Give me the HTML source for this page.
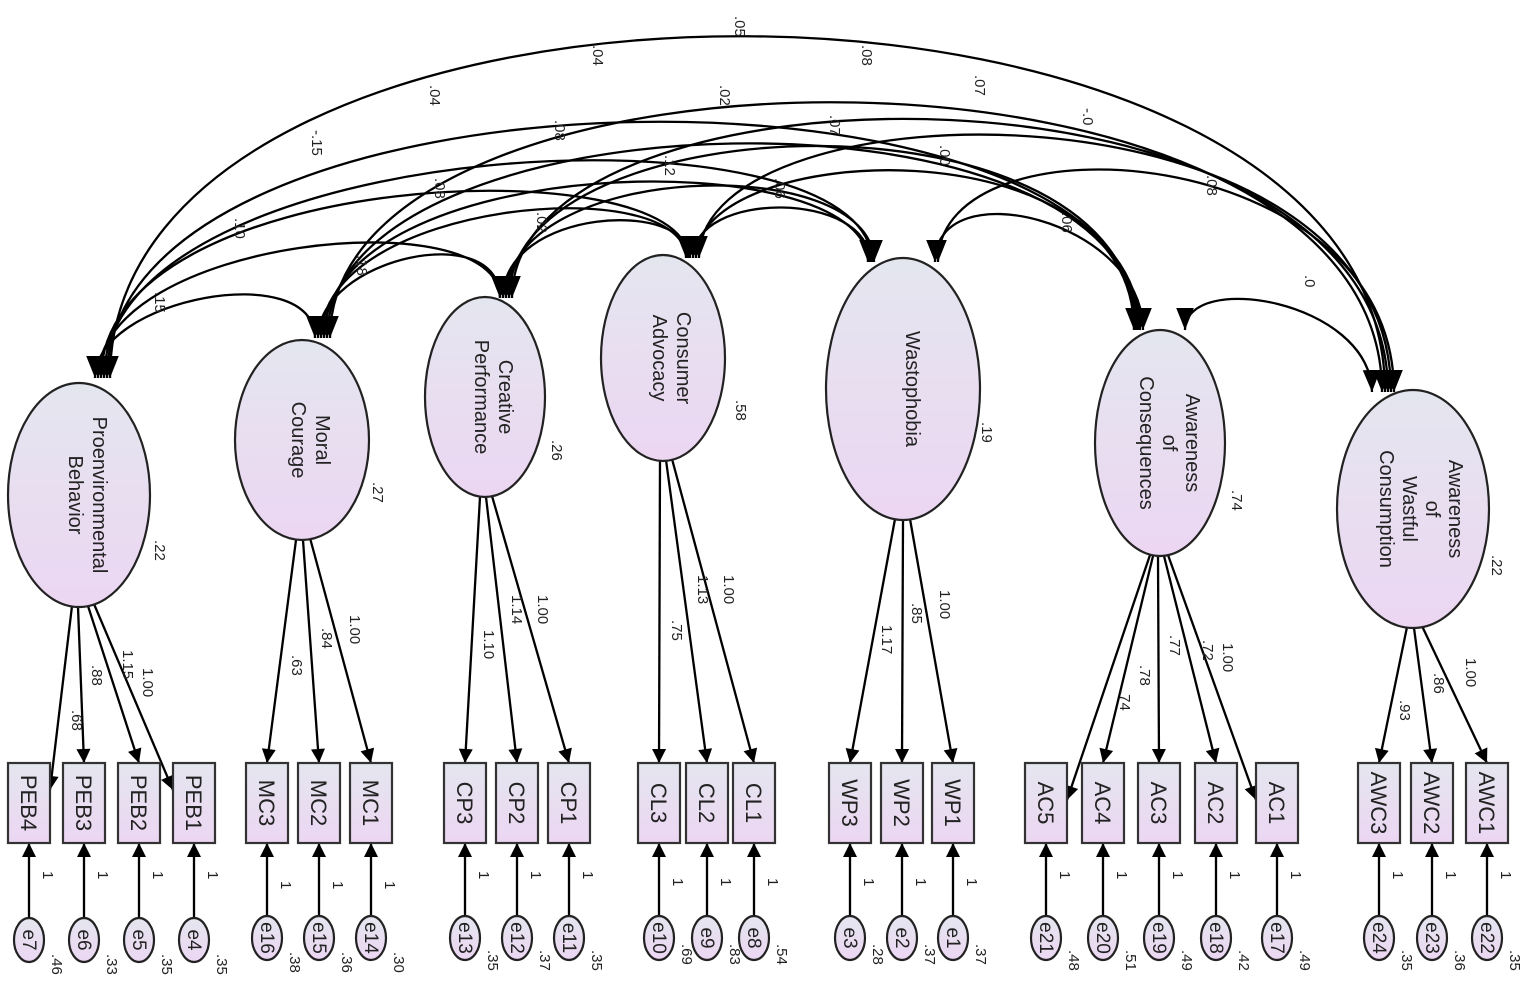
<!DOCTYPE html>
<html><head><meta charset="utf-8"><style>
html,body{margin:0;padding:0;background:#fff}
svg{display:block}
text{font-family:"Liberation Sans",sans-serif;fill:#222}
</style></head><body>
<svg width="1535" height="984" viewBox="0 0 1535 984" xmlns="http://www.w3.org/2000/svg">
<defs>
<linearGradient id="g" x1="0" y1="0" x2="0" y2="1"><stop offset="0" stop-color="#e4e6ef"/><stop offset="1" stop-color="#ecd6f2"/></linearGradient>
<marker id="a" viewBox="0 0 10 10" refX="10" refY="5" markerWidth="18" markerHeight="14" orient="auto-start-reverse" markerUnits="userSpaceOnUse"><path d="M0,0 L10,5 L0,10 z" fill="#000"/></marker>
<marker id="b" viewBox="0 0 10 10" refX="10" refY="5" markerWidth="22" markerHeight="22" orient="auto-start-reverse" markerUnits="userSpaceOnUse"><path d="M0,1 L10,5 L0,9 z" fill="#000"/></marker>
</defs>

<g fill="none" stroke="#000" stroke-width="2.3" marker-start="url(#b)" marker-end="url(#b)">
<path d="M95,378 C95,298 315,258 315,338"/>
<path d="M98,378 C98,238 500,198 500,298"/>
<path d="M101,378 C101,166 688,146 688,258"/>
<path d="M104,378 C104,132 872,96 872,262"/>
<path d="M107,378 C107,50 1140,40 1140,330"/>
<path d="M110,378 C110,-80 1385,-80 1385,392"/>
<path d="M318,338 C318,258 500,218 500,298"/>
<path d="M321,338 C321,200 686,170 686,258"/>
<path d="M324,338 C324,150 868,140 868,262"/>
<path d="M327,338 C327,90 1138,70 1138,330"/>
<path d="M330,338 C330,20 1382,10 1382,392"/>
<path d="M503,298 C503,208 690,198 690,258"/>
<path d="M506,298 C506,160 874,150 874,262"/>
<path d="M509,298 C509,100 1136,80 1136,330"/>
<path d="M512,298 C512,50 1388,40 1388,392"/>
<path d="M693,258 C693,190 870,190 870,262"/>
<path d="M696,258 C696,140 1134,120 1134,330"/>
<path d="M699,258 C699,80 1391,70 1391,392"/>
<path d="M935,262 C935,170 1143,220 1143,330"/>
<path d="M938,262 C938,110 1394,140 1394,392"/>
<path d="M1185,330 C1185,270 1370,300 1372,392"/>
</g>
<g font-size="15">
<text transform="translate(735,16) rotate(90)">.05</text>
<text transform="translate(593,45) rotate(90)">.04</text>
<text transform="translate(862,45) rotate(90)">.08</text>
<text transform="translate(975,75) rotate(90)">.07</text>
<text transform="translate(430,85) rotate(90)">.04</text>
<text transform="translate(720,85) rotate(90)">.02</text>
<text transform="translate(830,115) rotate(90)">.07</text>
<text transform="translate(1083,108) rotate(90)">-.0</text>
<text transform="translate(312,130) rotate(90)">-.15</text>
<text transform="translate(555,120) rotate(90)">.08</text>
<text transform="translate(665,155) rotate(90)">.12</text>
<text transform="translate(940,145) rotate(90)">.00</text>
<text transform="translate(775,178) rotate(90)">.06</text>
<text transform="translate(235,218) rotate(90)">.10</text>
<text transform="translate(435,178) rotate(90)">.08</text>
<text transform="translate(537,212) rotate(90)">.02</text>
<text transform="translate(1207,175) rotate(90)">.08</text>
<text transform="translate(1062,212) rotate(90)">.06</text>
<text transform="translate(155,292) rotate(90)">.15</text>
<text transform="translate(357,255) rotate(90)">.18</text>
<text transform="translate(1305,275) rotate(90)">.0</text>
</g>

<g stroke="#000" stroke-width="2.3" marker-end="url(#a)">
<line x1="72" y1="606" x2="50" y2="790"/>
<line x1="78" y1="607" x2="84" y2="763"/>
<line x1="88" y1="606" x2="139" y2="763"/>
<line x1="94" y1="604" x2="173" y2="790"/>
<line x1="296" y1="540" x2="267" y2="763"/>
<line x1="303" y1="540" x2="319" y2="763"/>
<line x1="310" y1="538" x2="371" y2="763"/>
<line x1="480" y1="497" x2="465" y2="763"/>
<line x1="486" y1="497" x2="517" y2="763"/>
<line x1="492" y1="496" x2="569" y2="763"/>
<line x1="660" y1="460" x2="659" y2="763"/>
<line x1="666" y1="460" x2="707" y2="763"/>
<line x1="672" y1="459" x2="754" y2="763"/>
<line x1="895" y1="519" x2="850" y2="763"/>
<line x1="903" y1="520" x2="902" y2="763"/>
<line x1="910" y1="519" x2="953" y2="763"/>
<line x1="1150" y1="555" x2="1067" y2="800"/>
<line x1="1153" y1="556" x2="1103" y2="763"/>
<line x1="1158" y1="557" x2="1159" y2="763"/>
<line x1="1164" y1="556" x2="1216" y2="763"/>
<line x1="1168" y1="555" x2="1256" y2="800"/>
<line x1="1407" y1="627" x2="1379" y2="763"/>
<line x1="1414" y1="628" x2="1432" y2="763"/>
<line x1="1422" y1="626" x2="1487" y2="763"/>
</g>
<g font-size="15">
<text transform="translate(143,668) rotate(90)">1.00</text>
<text transform="translate(123,650) rotate(90)">1.15</text>
<text transform="translate(92,665) rotate(90)">.88</text>
<text transform="translate(72,710) rotate(90)">.68</text>
<text transform="translate(292,655) rotate(90)">.63</text>
<text transform="translate(322,628) rotate(90)">.84</text>
<text transform="translate(350,615) rotate(90)">1.00</text>
<text transform="translate(484,630) rotate(90)">1.10</text>
<text transform="translate(512,595) rotate(90)">1.14</text>
<text transform="translate(538,595) rotate(90)">1.00</text>
<text transform="translate(672,620) rotate(90)">.75</text>
<text transform="translate(698,575) rotate(90)">1.13</text>
<text transform="translate(724,575) rotate(90)">1.00</text>
<text transform="translate(882,625) rotate(90)">1.17</text>
<text transform="translate(912,603) rotate(90)">.85</text>
<text transform="translate(940,590) rotate(90)">1.00</text>
<text transform="translate(1120,690) rotate(90)">.74</text>
<text transform="translate(1140,665) rotate(90)">.78</text>
<text transform="translate(1170,635) rotate(90)">.77</text>
<text transform="translate(1203,640) rotate(90)">.72</text>
<text transform="translate(1223,643) rotate(90)">1.00</text>
<text transform="translate(1400,700) rotate(90)">.93</text>
<text transform="translate(1434,673) rotate(90)">.86</text>
<text transform="translate(1466,658) rotate(90)">1.00</text>
</g>

<g fill="url(#g)" stroke="#222" stroke-width="2.2">
<ellipse cx="79" cy="495" rx="71" ry="112"/>
<ellipse cx="302" cy="440" rx="67" ry="100"/>
<ellipse cx="485" cy="397" rx="60" ry="100"/>
<ellipse cx="663" cy="358" rx="62" ry="103"/>
<ellipse cx="903" cy="389" rx="77" ry="131"/>
<ellipse cx="1160" cy="443" rx="65" ry="113"/>
<ellipse cx="1413" cy="509" rx="76" ry="119"/>
</g>
<g font-size="20" text-anchor="middle">
<text transform="translate(79,495) rotate(90)"><tspan x="0" y="-14">Proenvironmental</tspan><tspan x="0" y="10">Behavior</tspan></text>
<text transform="translate(302,440) rotate(90)"><tspan x="0" y="-14">Moral</tspan><tspan x="0" y="10">Courage</tspan></text>
<text transform="translate(485,397) rotate(90)"><tspan x="0" y="-14">Creative</tspan><tspan x="0" y="10">Performance</tspan></text>
<text transform="translate(663,358) rotate(90)"><tspan x="0" y="-14">Consumer</tspan><tspan x="0" y="10">Advocacy</tspan></text>
<text transform="translate(903,389) rotate(90)"><tspan x="0" y="-3">Wastophobia</tspan></text>
<text transform="translate(1160,443) rotate(90)"><tspan x="0" y="-26">Awareness</tspan><tspan x="0" y="-3">of</tspan><tspan x="0" y="20">Consequences</tspan></text>
<text transform="translate(1413,509) rotate(90)"><tspan x="0" y="-36">Awareness</tspan><tspan x="0" y="-13">of</tspan><tspan x="0" y="10">Wastful</tspan><tspan x="0" y="33">Consumption</tspan></text>
</g>
<g font-size="15">
<text transform="translate(155,540) rotate(90)">.22</text>
<text transform="translate(373,482) rotate(90)">.27</text>
<text transform="translate(552,440) rotate(90)">.26</text>
<text transform="translate(736,400) rotate(90)">.58</text>
<text transform="translate(982,422) rotate(90)">.19</text>
<text transform="translate(1232,490) rotate(90)">.74</text>
<text transform="translate(1492,555) rotate(90)">.22</text>
</g>

<g stroke="#000" stroke-width="2.3" marker-end="url(#a)">
<line x1="29" y1="918" x2="29" y2="843"/><line x1="84" y1="918" x2="84" y2="843"/><line x1="139" y1="918" x2="139" y2="843"/><line x1="194" y1="918" x2="194" y2="843"/>
<line x1="267" y1="916" x2="267" y2="843"/><line x1="319" y1="916" x2="319" y2="843"/><line x1="371" y1="916" x2="371" y2="843"/>
<line x1="465" y1="916" x2="465" y2="843"/><line x1="517" y1="916" x2="517" y2="843"/><line x1="569" y1="916" x2="569" y2="843"/>
<line x1="659" y1="916" x2="659" y2="843"/><line x1="707" y1="916" x2="707" y2="843"/><line x1="754" y1="916" x2="754" y2="843"/>
<line x1="850" y1="916" x2="850" y2="843"/><line x1="902" y1="916" x2="902" y2="843"/><line x1="953" y1="916" x2="953" y2="843"/>
<line x1="1046" y1="916" x2="1046" y2="843"/><line x1="1103" y1="916" x2="1103" y2="843"/><line x1="1159" y1="916" x2="1159" y2="843"/><line x1="1216" y1="916" x2="1216" y2="843"/><line x1="1277" y1="916" x2="1277" y2="843"/>
<line x1="1379" y1="916" x2="1379" y2="843"/><line x1="1432" y1="916" x2="1432" y2="843"/><line x1="1487" y1="916" x2="1487" y2="843"/>
</g>

<g fill="url(#g)" stroke="#333" stroke-width="2.2">
<rect x="8" y="763" width="42" height="80"/><rect x="63" y="763" width="42" height="80"/><rect x="118" y="763" width="42" height="80"/><rect x="173" y="763" width="42" height="80"/>
<rect x="246" y="763" width="42" height="80"/><rect x="298" y="763" width="42" height="80"/><rect x="350" y="763" width="42" height="80"/>
<rect x="444" y="763" width="42" height="80"/><rect x="496" y="763" width="42" height="80"/><rect x="548" y="763" width="42" height="80"/>
<rect x="638" y="763" width="42" height="80"/><rect x="686" y="763" width="42" height="80"/><rect x="733" y="763" width="42" height="80"/>
<rect x="829" y="763" width="42" height="80"/><rect x="881" y="763" width="42" height="80"/><rect x="932" y="763" width="42" height="80"/>
<rect x="1025" y="763" width="42" height="80"/><rect x="1082" y="763" width="42" height="80"/><rect x="1138" y="763" width="42" height="80"/><rect x="1195" y="763" width="42" height="80"/><rect x="1256" y="763" width="42" height="80"/>
<rect x="1358" y="763" width="42" height="80"/><rect x="1411" y="763" width="42" height="80"/><rect x="1466" y="763" width="42" height="80"/>
</g>
<g font-size="22" text-anchor="middle">
<text transform="translate(29,803) rotate(90)" dy="8">PEB4</text><text transform="translate(84,803) rotate(90)" dy="8">PEB3</text><text transform="translate(139,803) rotate(90)" dy="8">PEB2</text><text transform="translate(194,803) rotate(90)" dy="8">PEB1</text>
<text transform="translate(267,803) rotate(90)" dy="8">MC3</text><text transform="translate(319,803) rotate(90)" dy="8">MC2</text><text transform="translate(371,803) rotate(90)" dy="8">MC1</text>
<text transform="translate(465,803) rotate(90)" dy="8">CP3</text><text transform="translate(517,803) rotate(90)" dy="8">CP2</text><text transform="translate(569,803) rotate(90)" dy="8">CP1</text>
<text transform="translate(659,803) rotate(90)" dy="8">CL3</text><text transform="translate(707,803) rotate(90)" dy="8">CL2</text><text transform="translate(754,803) rotate(90)" dy="8">CL1</text>
<text transform="translate(850,803) rotate(90)" dy="8">WP3</text><text transform="translate(902,803) rotate(90)" dy="8">WP2</text><text transform="translate(953,803) rotate(90)" dy="8">WP1</text>
<text transform="translate(1046,803) rotate(90)" dy="8">AC5</text><text transform="translate(1103,803) rotate(90)" dy="8">AC4</text><text transform="translate(1159,803) rotate(90)" dy="8">AC3</text><text transform="translate(1216,803) rotate(90)" dy="8">AC2</text><text transform="translate(1277,803) rotate(90)" dy="8">AC1</text>
<text transform="translate(1379,803) rotate(90)" dy="8">AWC3</text><text transform="translate(1432,803) rotate(90)" dy="8">AWC2</text><text transform="translate(1487,803) rotate(90)" dy="8">AWC1</text>
</g>

<g fill="url(#g)" stroke="#222" stroke-width="2.2">
<ellipse cx="29" cy="940" rx="15" ry="22"/><ellipse cx="84" cy="940" rx="15" ry="22"/><ellipse cx="139" cy="940" rx="15" ry="22"/><ellipse cx="194" cy="940" rx="15" ry="22"/>
<ellipse cx="267" cy="938" rx="15" ry="22"/><ellipse cx="319" cy="938" rx="15" ry="22"/><ellipse cx="371" cy="938" rx="15" ry="22"/>
<ellipse cx="465" cy="938" rx="15" ry="22"/><ellipse cx="517" cy="938" rx="15" ry="22"/><ellipse cx="569" cy="938" rx="15" ry="22"/>
<ellipse cx="659" cy="938" rx="15" ry="22"/><ellipse cx="707" cy="938" rx="15" ry="22"/><ellipse cx="754" cy="938" rx="15" ry="22"/>
<ellipse cx="850" cy="938" rx="15" ry="22"/><ellipse cx="902" cy="938" rx="15" ry="22"/><ellipse cx="953" cy="938" rx="15" ry="22"/>
<ellipse cx="1046" cy="938" rx="15" ry="22"/><ellipse cx="1103" cy="938" rx="15" ry="22"/><ellipse cx="1159" cy="938" rx="15" ry="22"/><ellipse cx="1216" cy="938" rx="15" ry="22"/><ellipse cx="1277" cy="938" rx="15" ry="22"/>
<ellipse cx="1379" cy="938" rx="15" ry="22"/><ellipse cx="1432" cy="938" rx="15" ry="22"/><ellipse cx="1487" cy="938" rx="15" ry="22"/>
</g>
<g font-size="19" text-anchor="middle">
<text transform="translate(29,940) rotate(90)" dy="6">e7</text><text transform="translate(84,940) rotate(90)" dy="6">e6</text><text transform="translate(139,940) rotate(90)" dy="6">e5</text><text transform="translate(194,940) rotate(90)" dy="6">e4</text>
<text transform="translate(267,938) rotate(90)" dy="6">e16</text><text transform="translate(319,938) rotate(90)" dy="6">e15</text><text transform="translate(371,938) rotate(90)" dy="6">e14</text>
<text transform="translate(465,938) rotate(90)" dy="6">e13</text><text transform="translate(517,938) rotate(90)" dy="6">e12</text><text transform="translate(569,938) rotate(90)" dy="6">e11</text>
<text transform="translate(659,938) rotate(90)" dy="6">e10</text><text transform="translate(707,938) rotate(90)" dy="6">e9</text><text transform="translate(754,938) rotate(90)" dy="6">e8</text>
<text transform="translate(850,938) rotate(90)" dy="6">e3</text><text transform="translate(902,938) rotate(90)" dy="6">e2</text><text transform="translate(953,938) rotate(90)" dy="6">e1</text>
<text transform="translate(1046,938) rotate(90)" dy="6">e21</text><text transform="translate(1103,938) rotate(90)" dy="6">e20</text><text transform="translate(1159,938) rotate(90)" dy="6">e19</text><text transform="translate(1216,938) rotate(90)" dy="6">e18</text><text transform="translate(1277,938) rotate(90)" dy="6">e17</text>
<text transform="translate(1379,938) rotate(90)" dy="6">e24</text><text transform="translate(1432,938) rotate(90)" dy="6">e23</text><text transform="translate(1487,938) rotate(90)" dy="6">e22</text>
</g>
<g font-size="15">
<text transform="translate(43,871) rotate(90)">1</text><text transform="translate(98,871) rotate(90)">1</text><text transform="translate(153,871) rotate(90)">1</text><text transform="translate(208,871) rotate(90)">1</text>
<text transform="translate(281,881) rotate(90)">1</text><text transform="translate(333,881) rotate(90)">1</text><text transform="translate(385,881) rotate(90)">1</text>
<text transform="translate(479,871) rotate(90)">1</text><text transform="translate(531,871) rotate(90)">1</text><text transform="translate(583,871) rotate(90)">1</text>
<text transform="translate(673,878) rotate(90)">1</text><text transform="translate(721,878) rotate(90)">1</text><text transform="translate(768,878) rotate(90)">1</text>
<text transform="translate(864,878) rotate(90)">1</text><text transform="translate(916,878) rotate(90)">1</text><text transform="translate(967,878) rotate(90)">1</text>
<text transform="translate(1060,871) rotate(90)">1</text><text transform="translate(1117,871) rotate(90)">1</text><text transform="translate(1173,871) rotate(90)">1</text><text transform="translate(1230,871) rotate(90)">1</text><text transform="translate(1291,871) rotate(90)">1</text>
<text transform="translate(1393,871) rotate(90)">1</text><text transform="translate(1446,871) rotate(90)">1</text><text transform="translate(1501,871) rotate(90)">1</text>
<text transform="translate(52,954) rotate(90)">.46</text><text transform="translate(107,954) rotate(90)">.33</text><text transform="translate(162,954) rotate(90)">.35</text><text transform="translate(217,954) rotate(90)">.35</text>
<text transform="translate(290,952) rotate(90)">.38</text><text transform="translate(342,952) rotate(90)">.36</text><text transform="translate(394,952) rotate(90)">.30</text>
<text transform="translate(488,950) rotate(90)">.35</text><text transform="translate(540,950) rotate(90)">.37</text><text transform="translate(592,950) rotate(90)">.35</text>
<text transform="translate(682,944) rotate(90)">.69</text><text transform="translate(730,944) rotate(90)">.83</text><text transform="translate(777,944) rotate(90)">.54</text>
<text transform="translate(873,944) rotate(90)">.28</text><text transform="translate(925,944) rotate(90)">.37</text><text transform="translate(976,944) rotate(90)">.37</text>
<text transform="translate(1069,950) rotate(90)">.48</text><text transform="translate(1126,950) rotate(90)">.51</text><text transform="translate(1182,950) rotate(90)">.49</text><text transform="translate(1239,950) rotate(90)">.42</text><text transform="translate(1300,950) rotate(90)">.49</text>
<text transform="translate(1402,950) rotate(90)">.35</text><text transform="translate(1455,950) rotate(90)">.36</text><text transform="translate(1510,950) rotate(90)">.35</text>
</g>
</svg>
</body></html>
